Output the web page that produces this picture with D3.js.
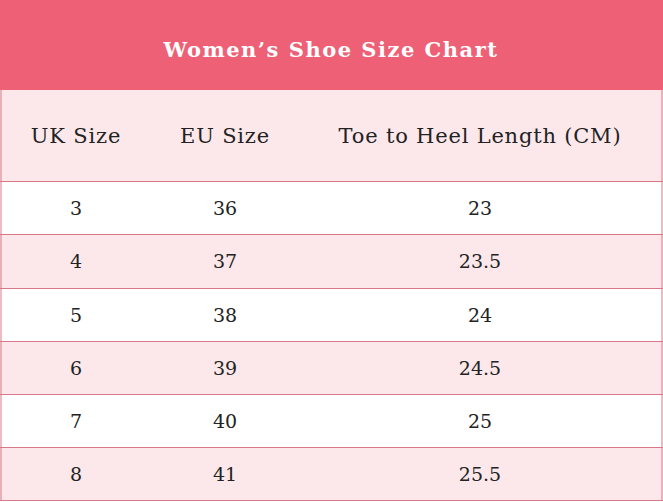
<!DOCTYPE html><html><head><meta charset="utf-8">
<script src="https://cdn.jsdelivr.net/npm/d3@7"></script>
<style>body{margin:0;background:#fff}</style></head><body><svg id="c" width="663" height="502"></svg>
<script>
const title = "Women’s Shoe Size Chart";
const headers = ["UK Size", "EU Size", "Toe to Heel Length (CM)"];
const ukSizes = ["3","4","5","6","7","8"];
const euSizes = ["36","37","38","39","40","41"];
const lengths = ["23","23.5","24","24.5","25","25.5"];

const W = 663, H = 502;
const svg = d3.select("#c");
const font = "'DejaVu Serif', 'Liberation Serif', serif";
const colX = d3.scalePoint().domain([0,1,2]).range([76,480]);
colX.domain([0,1,2]);
const xPos = d => [76,225,480][d];
const rowY = d3.scaleBand().domain(d3.range(7)).range([90,501]).paddingInner(0);
// custom row boundaries: header row taller
const bounds = [90,181,234,288,341,394,447,501];

svg.append("rect").attr("x",0).attr("y",0).attr("width",W).attr("height",90).attr("fill","#EE6076");
svg.append("text").attr("x",331).attr("y",57).attr("text-anchor","middle")
 .attr("fill","#fff").attr("font-family",font).attr("font-weight","bold").attr("font-size",21)
 .attr("letter-spacing",1.5).text(title);

const rows = [headers].concat(ukSizes.map((u,i)=>[u,euSizes[i],lengths[i]]));
rows.forEach((r,i)=>{
  const y0 = bounds[i], y1 = bounds[i+1];
  svg.append("rect").attr("x",0).attr("y",y0).attr("width",W).attr("height",y1-y0)
    .attr("fill", i%2===0 ? "#FCE8EB" : "#FFFFFF");
  r.forEach((t,j)=>{
    svg.append("text").attr("x",xPos(j)).attr("y",(y0+y1)/2+7).attr("text-anchor","middle")
      .attr("fill","#222").attr("font-family",font).attr("font-size", i===0?21:19)
      .attr("letter-spacing", i===0?0.8:0).text(t);
  });
  if(i>0) svg.append("line").attr("x1",0).attr("x2",W).attr("y1",y0+0.5).attr("y2",y0+0.5)
    .attr("stroke","#D9788A").attr("stroke-width",1);
});
svg.append("line").attr("x1",1).attr("x2",1).attr("y1",90).attr("y2",501).attr("stroke","#D9788A");
svg.append("line").attr("x1",662).attr("x2",662).attr("y1",90).attr("y2",501).attr("stroke","#D9788A");
svg.append("line").attr("x1",0).attr("x2",W).attr("y1",500.5).attr("y2",500.5).attr("stroke","#D9788A");
</script></body></html>
